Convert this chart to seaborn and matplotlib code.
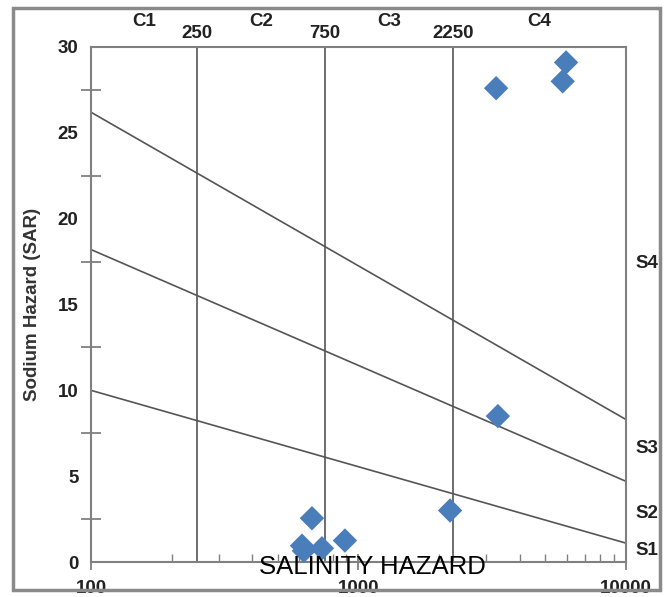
import numpy as np
import pandas as pd
import matplotlib
matplotlib.use("Agg")
import matplotlib.pyplot as plt
import seaborn as sns
from matplotlib.patches import Rectangle
from matplotlib.transforms import blended_transform_factory

sns.set_theme(style="white")
plt.rcParams["font.family"] = ["Liberation Sans", "DejaVu Sans"]

# Water samples: electrical conductivity (µS/cm) and sodium adsorption ratio
ec = [3270, 5800, 5970, 3320, 2200, 670, 615, 625, 730, 890]
sar = [27.6, 28.0, 29.1, 8.5, 3.0, 2.55, 0.95, 0.65, 0.8, 1.25]

# Salinity class boundaries and labels
salinity_bounds = [250, 750, 2250]
salinity_classes = ["C1", "C2", "C3", "C4"]

# Sodium hazard boundary lines: SAR at EC = 100 and at EC = 10000
sodium_lines_start = [10.0, 18.2, 26.2]
sodium_lines_end = [1.1, 4.7, 8.3]
sodium_classes = ["S1", "S2", "S3", "S4"]
sodium_label_y = [0.65, 2.8, 6.6, 17.4]

x_min, x_max = 100, 10000
y_min, y_max = 0, 30

df = pd.DataFrame({"EC": ec, "SAR": sar})

fig = plt.figure(figsize=(6.71, 5.97), dpi=100)
ax = fig.add_axes([0.1356, 0.0586, 0.7973, 0.8627])

line_col = "#555555"
spine_col = "#808080"
txt_col = "#222222"

# class boundaries
for b in salinity_bounds:
    ax.axvline(b, color=line_col, lw=1.2, zorder=1)
for s0, s1 in zip(sodium_lines_start, sodium_lines_end):
    ax.plot([x_min, x_max], [s0, s1], color=line_col, lw=1.2, zorder=1)

sns.scatterplot(data=df, x="EC", y="SAR", marker="D", s=155, color="#4a7ebb",
                edgecolor="none", ax=ax, zorder=3, clip_on=False)

ax.set_xscale("log")
ax.set_xlim(x_min, x_max)
ax.set_ylim(y_min, y_max)
ax.set_xticks([100, 1000, 10000])
ax.set_xticklabels(["100", "1000", "10000"])
ax.set_yticks(np.arange(0, 31, 5))
ax.set_yticks(np.arange(2.5, 30, 5), minor=True)
ax.xaxis.set_minor_locator(matplotlib.ticker.LogLocator(base=10, subs=np.arange(2, 10)))
ax.xaxis.set_minor_formatter(matplotlib.ticker.NullFormatter())

for sp in ax.spines.values():
    sp.set_color(spine_col)
    sp.set_linewidth(1.5)

ax.tick_params(axis="y", which="major", direction="inout", length=14, width=1.3,
               color=spine_col, labelsize=13.5, pad=2)
ax.tick_params(axis="y", which="minor", direction="inout", length=14, width=1.3,
               color=spine_col, left=True)
ax.tick_params(axis="x", which="major", direction="inout", length=12, width=1.3,
               color=spine_col, labelsize=13.5, pad=7, bottom=True)
ax.tick_params(axis="x", which="minor", direction="in", length=6, width=1.0,
               color=spine_col, bottom=True)
for lab in ax.get_xticklabels() + ax.get_yticklabels():
    lab.set_fontweight("bold")
    lab.set_color(txt_col)

ax.set_xlabel("")
ax.set_ylabel("Sodium Hazard (SAR)", fontsize=13.5, fontweight="bold", color="#333333",
              labelpad=12)

# top labels: class boundaries and class names
top = blended_transform_factory(ax.transData, ax.transAxes)
for b in salinity_bounds:
    ax.text(b, 1.027, str(b), transform=top, ha="center", va="center",
            fontsize=13.5, fontweight="bold", color=txt_col)
edges = [x_min] + salinity_bounds + [x_max]
for i, name in enumerate(salinity_classes):
    xm = np.sqrt(edges[i] * edges[i + 1])
    ax.text(xm, 1.05, name, transform=top, ha="center", va="center",
            fontsize=13.5, fontweight="bold", color=txt_col)

# right labels: sodium classes
right = blended_transform_factory(ax.transAxes, ax.transData)
for name, yv in zip(sodium_classes, sodium_label_y):
    ax.text(1.017, yv, name, transform=right, ha="left", va="center",
            fontsize=13.5, fontweight="bold", color=txt_col)

fig.text(372 / 671, 1 - 567 / 597, "SALINITY HAZARD", ha="center", va="center",
         fontsize=18.5, color="black", zorder=5)

# figure frame
fig.patches.append(Rectangle((13 / 671, 1 - 590 / 597), 647 / 671, 582 / 597,
                             transform=fig.transFigure, fill=False,
                             edgecolor="#8a8a8a", lw=2.5, zorder=10))

fig.savefig("out.png", dpi=100)
